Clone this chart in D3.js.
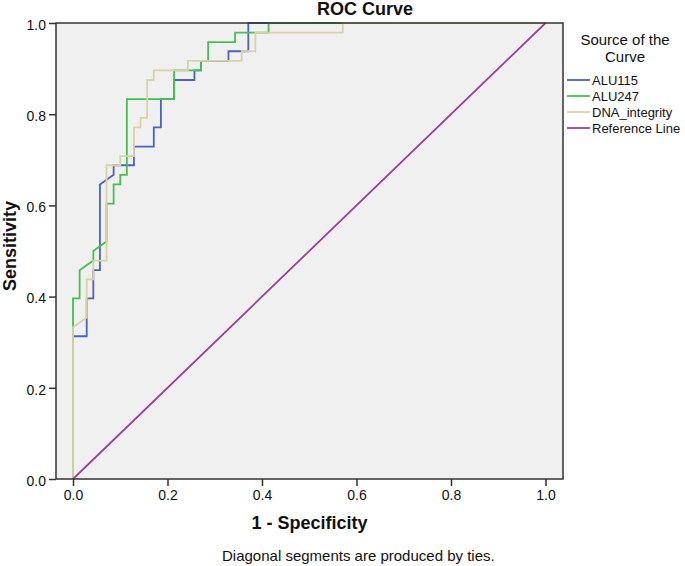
<!DOCTYPE html>
<html lang="en">
    <head>
        <meta charset="utf-8">
        <title>ROC Curve</title>
        <script type="text/javascript" src="https://cdn.jsdelivr.net/npm/d3@7/dist/d3.min.js"></script>
        <style type="text/css">
            body { margin: 0; background: #fff; }
            text { font-family: "Liberation Sans", Arial, sans-serif; fill: #111; }
        </style>
    </head>
    <body>
        <script type="text/javascript">
            var w = 685;
            var h = 566;

            // data: 1 - specificity / sensitivity per curve
            var seriesNames = ["ALU115", "ALU247", "DNA_integrity", "Reference Line"];
            var seriesColors = ["#4a62c2", "#42c150", "#d9d3a3", "#9a3f9a"];

            var alu115Fpr = [0, 0, 0.029, 0.029, 0.043, 0.043, 0.057, 0.057, 0.086, 0.086, 0.129, 0.129, 0.171, 0.171, 0.186, 0.186, 0.214, 0.214, 0.257, 0.257, 0.271, 0.271, 0.329, 0.329, 0.371, 0.371, 1];
            var alu115Tpr = [0, 0.313, 0.313, 0.396, 0.396, 0.458, 0.458, 0.646, 0.667, 0.688, 0.688, 0.729, 0.729, 0.771, 0.771, 0.833, 0.833, 0.875, 0.875, 0.896, 0.896, 0.917, 0.917, 0.938, 0.938, 1, 1];

            var alu247Fpr = [0, 0, 0.014, 0.014, 0.043, 0.043, 0.071, 0.071, 0.086, 0.086, 0.100, 0.100, 0.114, 0.114, 0.214, 0.214, 0.271, 0.271, 0.286, 0.286, 0.343, 0.343, 0.414, 0.414, 1];
            var alu247Tpr = [0, 0.396, 0.396, 0.458, 0.479, 0.500, 0.521, 0.604, 0.604, 0.646, 0.646, 0.667, 0.667, 0.833, 0.833, 0.896, 0.896, 0.917, 0.917, 0.958, 0.958, 0.979, 0.979, 1, 1];

            var dnaFpr = [0, 0, 0.029, 0.029, 0.043, 0.043, 0.071, 0.071, 0.100, 0.100, 0.129, 0.129, 0.143, 0.143, 0.157, 0.157, 0.171, 0.171, 0.243, 0.243, 0.357, 0.357, 0.386, 0.386, 0.571, 0.571, 1];
            var dnaTpr = [0, 0.333, 0.354, 0.438, 0.438, 0.479, 0.479, 0.688, 0.688, 0.708, 0.708, 0.771, 0.771, 0.792, 0.792, 0.875, 0.875, 0.896, 0.896, 0.917, 0.917, 0.938, 0.938, 0.979, 0.979, 1, 1];

            var refFpr = [0, 1];
            var refTpr = [0, 1];

            var tickValues = [0, 0.2, 0.4, 0.6, 0.8, 1.0];
            var tickLabels = ["0.0", "0.2", "0.4", "0.6", "0.8", "1.0"];

            var frame = {left: 56, right: 563, top: 23, bottom: 479};

            var x = d3.scaleLinear().domain([0, 1]).range([73, 545.5]);
            var y = d3.scaleLinear().domain([0, 1]).range([frame.bottom, frame.top]);

            var svg = d3.select("body")
                        .append("svg")
                        .attr("width", w)
                        .attr("height", h);

            svg.append("rect")
               .attr("x", frame.left)
               .attr("y", frame.top)
               .attr("width", frame.right - frame.left)
               .attr("height", frame.bottom - frame.top)
               .attr("fill", "#f0f0f0");

            // axes
            var xAxis = d3.axisBottom(x)
                          .tickValues(tickValues)
                          .tickFormat(function(d, i) { return tickLabels[i]; })
                          .tickSizeInner(7)
                          .tickSizeOuter(0)
                          .tickPadding(4);
            var yAxis = d3.axisLeft(y)
                          .tickValues(tickValues)
                          .tickFormat(function(d, i) { return tickLabels[i]; })
                          .tickSizeInner(7)
                          .tickSizeOuter(0)
                          .tickPadding(3);

            var gx = svg.append("g")
                        .attr("transform", "translate(0," + frame.bottom + ")")
                        .call(xAxis);
            var gy = svg.append("g")
                        .attr("transform", "translate(" + frame.left + ",0)")
                        .call(yAxis);

            [gx, gy].forEach(function(g) {
                g.select(".domain").remove();
                g.selectAll(".tick line").attr("stroke", "#333").attr("stroke-width", 1.5);
                g.selectAll(".tick text")
                 .attr("font-family", "Liberation Sans, Arial, sans-serif")
                 .attr("font-size", "14px")
                 .attr("fill", "#222");
            });
            gy.selectAll(".tick text").attr("dy", "0.45em");

            // curves
            var line = d3.line()
                         .x(function(d) { return x(d[0]); })
                         .y(function(d) { return y(d[1]); });

            var curves = [
                d3.zip(alu115Fpr, alu115Tpr),
                d3.zip(alu247Fpr, alu247Tpr),
                d3.zip(dnaFpr, dnaTpr),
                d3.zip(refFpr, refTpr)
            ];

            svg.selectAll("path.curve")
               .data(curves)
               .enter()
               .append("path")
               .attr("class", "curve")
               .attr("d", line)
               .attr("fill", "none")
               .attr("stroke", function(d, i) { return seriesColors[i]; })
               .attr("stroke-width", 1.8);

            // frame on top
            svg.append("rect")
               .attr("x", frame.left)
               .attr("y", frame.top)
               .attr("width", frame.right - frame.left)
               .attr("height", frame.bottom - frame.top)
               .attr("fill", "none")
               .attr("stroke", "#333")
               .attr("stroke-width", 1.5);

            // titles
            svg.append("text")
               .attr("x", 317)
               .attr("y", 15)
               .attr("font-size", "18px")
               .attr("font-weight", "bold")
               .text("ROC Curve");

            svg.append("text")
               .attr("x", (frame.left + frame.right) / 2)
               .attr("y", 529)
               .attr("text-anchor", "middle")
               .attr("font-size", "18px")
               .attr("font-weight", "bold")
               .text("1 - Specificity");

            svg.append("text")
               .attr("transform", "translate(16,246) rotate(-90)")
               .attr("text-anchor", "middle")
               .attr("font-size", "18px")
               .attr("font-weight", "bold")
               .text("Sensitivity");

            svg.append("text")
               .attr("x", 222)
               .attr("y", 561)
               .attr("font-size", "15px")
               .text("Diagonal segments are produced by ties.");

            // legend
            var legend = svg.append("g");
            legend.append("text")
                  .attr("x", 625)
                  .attr("y", 45)
                  .attr("text-anchor", "middle")
                  .attr("font-size", "15px")
                  .text("Source of the");
            legend.append("text")
                  .attr("x", 625)
                  .attr("y", 62)
                  .attr("text-anchor", "middle")
                  .attr("font-size", "15px")
                  .text("Curve");

            var items = legend.selectAll("g.item")
                              .data(seriesNames)
                              .enter()
                              .append("g")
                              .attr("class", "item")
                              .attr("transform", function(d, i) { return "translate(0," + (80 + i * 16) + ")"; });
            items.append("line")
                 .attr("x1", 567)
                 .attr("x2", 590)
                 .attr("stroke", function(d, i) { return seriesColors[i]; })
                 .attr("stroke-width", 1.8);
            items.append("text")
                 .attr("x", 592)
                 .attr("dy", "0.36em")
                 .attr("font-size", "13px")
                 .text(function(d) { return d; });
        </script>
    </body>
</html>
